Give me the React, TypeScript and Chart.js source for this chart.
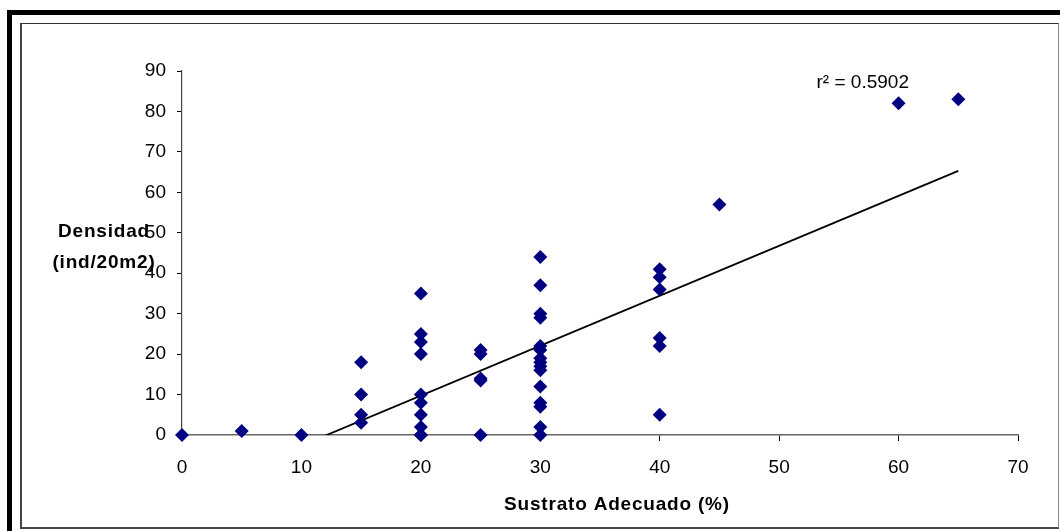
import React, { useEffect, useRef } from "react";
import { Chart, registerables } from "chart.js";

Chart.register(...registerables);

// Sustrato Adecuado (%) per sample
const substrate = [
  0, 5, 10,
  15, 15, 15, 15,
  20, 20, 20, 20, 20, 20, 20, 20, 20, 20,
  25, 25, 25, 25, 25,
  30, 30, 30, 30, 30, 30, 30, 30, 30, 30, 30, 30, 30, 30, 30,
  40, 40, 40, 40, 40, 40,
  45, 60, 65,
];
// Densidad (ind/20m2) per sample
const density = [
  0, 1, 0,
  18, 10, 5, 3,
  35, 25, 23, 20, 10, 8, 5, 2, 0, 0,
  21, 20, 14, 13.5, 0,
  44, 37, 30, 29, 22, 21, 19, 18, 17, 16, 12, 8, 7, 2, 0,
  41, 39, 36, 24, 22, 5,
  57, 82, 83,
];

// linear trend line
const trendSlope = 1.235;
const trendIntercept = -14.97;
const trendXRange = [0, 65];
const rSquaredLabel = "r² = 0.5902";
const rSquaredPos = { x: 57, y: 87 };

const xAxisMin = 0;
const xAxisMax = 70;
const xAxisStep = 10;
const yAxisMin = 0;
const yAxisMax = 90;
const yAxisStep = 10;

const xTitle = "Sustrato Adecuado (%)";
const yTitleLines = ["Densidad", "(ind/20m2)"];

const FONT = '"Liberation Sans", Arial, sans-serif';

const titlesPlugin = {
  id: "customTitles",
  afterDraw(chart: any) {
    const ctx = chart.ctx as CanvasRenderingContext2D;
    const area = chart.chartArea;
    ctx.save();
    ctx.fillStyle = "#000";
    ctx.textAlign = "center";
    ctx.textBaseline = "middle";
    (ctx as any).letterSpacing = "0.8px";
    ctx.font = `bold 19px ${FONT}`;
    ctx.fillText(xTitle, area.left + 435, area.bottom + 70);
    ctx.fillText(yTitleLines[0], area.left - 78, area.top + 161);
    ctx.fillText(yTitleLines[1], area.left - 78, area.top + 192);
    (ctx as any).letterSpacing = "0px";
    ctx.font = `19px ${FONT}`;
    const xs = chart.scales.x;
    const ys = chart.scales.y;
    ctx.fillText(rSquaredLabel, xs.getPixelForValue(rSquaredPos.x), ys.getPixelForValue(rSquaredPos.y));
    ctx.restore();
  },
};

export default function App() {
  const canvasRef = useRef<HTMLCanvasElement | null>(null);

  useEffect(() => {
    if (!canvasRef.current) return;
    const points = substrate.map((x, i) => ({ x, y: density[i] }));
    const trend = trendXRange.map((x) => ({ x, y: trendSlope * x + trendIntercept }));
    const chart = new Chart(canvasRef.current, {
      type: "scatter",
      data: {
        datasets: [
          {
            label: "trend",
            type: "line",
            data: trend,
            borderColor: "#000",
            borderWidth: 1.8,
            pointRadius: 0,
            fill: false,
            order: 1,
          } as any,
          {
            label: "Densidad",
            data: points,
            pointStyle: "rectRot",
            pointRadius: 7,
            pointBackgroundColor: "#000080",
            pointBorderColor: "#000080",
            pointBorderWidth: 0,
            clip: false,
            order: 0,
          } as any,
        ],
      },
      options: {
        responsive: false,
        animation: false,
        events: [],
        layout: { padding: { left: 0, top: 71, right: 42, bottom: 0 } },
        plugins: {
          legend: { display: false },
          tooltip: { enabled: false },
          title: { display: false },
        },
        scales: {
          x: {
            type: "linear",
            min: xAxisMin,
            max: xAxisMax,
            ticks: {
              stepSize: xAxisStep,
              color: "#000",
              font: { family: FONT, size: 19 },
              padding: 15,
            },
            grid: {
              display: true,
              drawOnChartArea: false,
              drawTicks: true,
              tickLength: 6,
              color: "#000",
            },
            border: { display: true, color: "#666", width: 1.5 },
            afterFit(scale: any) {
              scale.height = 96;
            },
          },
          y: {
            type: "linear",
            min: yAxisMin,
            max: yAxisMax,
            ticks: {
              stepSize: yAxisStep,
              color: "#000",
              font: { family: FONT, size: 19 },
              padding: 11,
            },
            grid: {
              display: true,
              drawOnChartArea: false,
              drawTicks: true,
              tickLength: 5,
              color: "#000",
            },
            border: { display: true, color: "#444", width: 1.2 },
            afterFit(scale: any) {
              scale.width = 182;
            },
          },
        },
      },
      plugins: [titlesPlugin],
    });
    return () => chart.destroy();
  }, []);

  return (
    <div
      style={{
        position: "absolute",
        left: 0,
        top: 0,
        width: 1060,
        height: 531,
        overflow: "hidden",
        background: "#fff",
      }}
    >
      <div
        style={{
          position: "absolute",
          left: 7,
          top: 10,
          width: 2000,
          height: 2000,
          border: "5px solid #000",
          boxSizing: "border-box",
        }}
      />
      <div
        style={{
          position: "absolute",
          left: 20,
          top: 23,
          width: 1039,
          height: 506,
          boxSizing: "border-box",
          borderTop: "1px solid #333",
          borderRight: "1px solid #888",
          borderLeft: "2px solid #444",
          borderBottom: "2px solid #444",
          background: "#fff",
        }}
      />
      <canvas
        ref={canvasRef}
        width={1060}
        height={531}
        style={{ position: "absolute", left: 0, top: 0, width: 1060, height: 531 }}
      />
    </div>
  );
}
